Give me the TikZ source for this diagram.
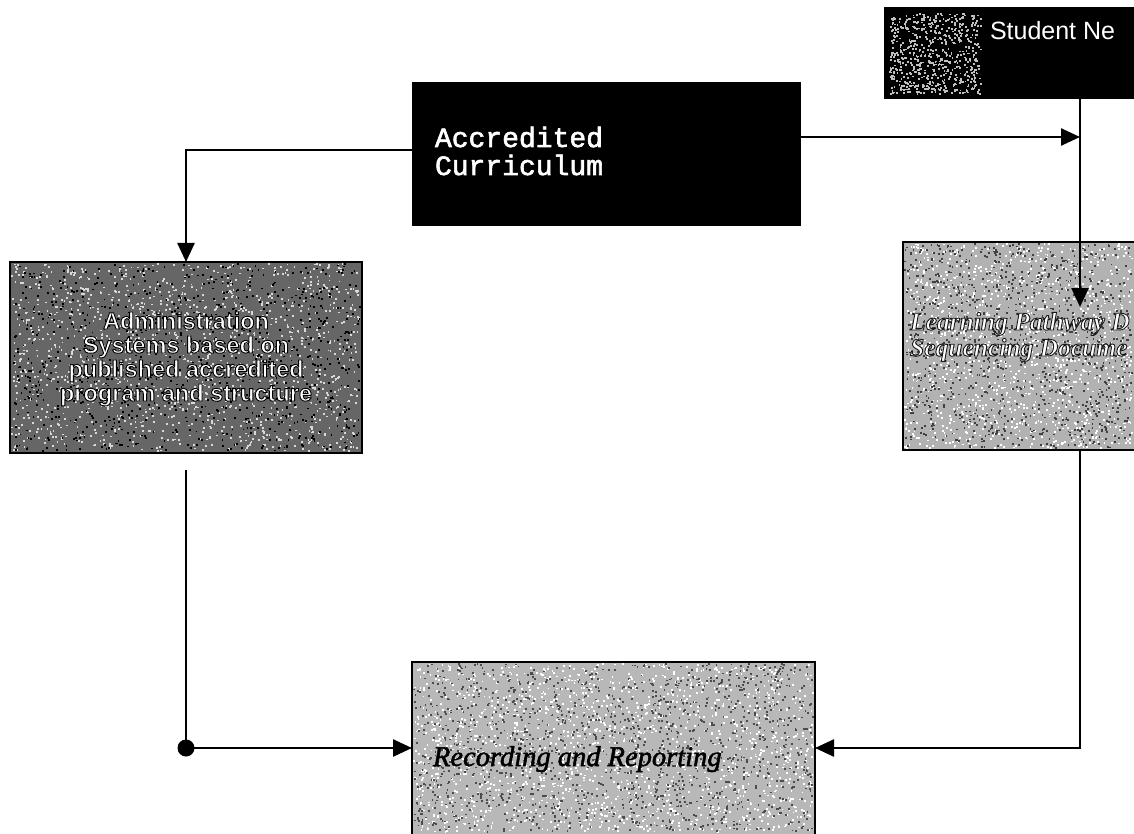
\documentclass[tikz,border=0pt]{standalone}
\usepackage{fontspec}
\usetikzlibrary{arrows.meta}
\newfontfamily\arialfont{Liberation Sans}
\newfontfamily\arialbold{Liberation Sans Bold}
\newfontfamily\courfont{Liberation Mono}
\newfontfamily\timesit{Liberation Serif Italic}
\newfontfamily\timesbi{Liberation Serif Bold Italic}

\definecolor{admingray}{gray}{0.40}
\definecolor{pathgray}{gray}{0.70}
\definecolor{recgray}{gray}{0.72}

% text painted with fill and stroke: stroke width, stroke gray level, text
\newcommand\outlined[3]{\special{pdf:code q #1 w #2 G 2 Tr}#3\special{pdf:code Q}}

% scatter small square specks over a rectangle: x y w h count colour seed
\newcommand\speckle[7]{%
  \pgfmathsetseed{#7}%
  \foreach \k in {1,...,#5}{%
    \pgfmathsetmacro\sx{#1+1+rnd*(#3-4)}%
    \pgfmathsetmacro\sy{#2+1+rnd*(#4-4)}%
    \fill[#6] (\sx,\sy) rectangle ++(1.8,1.8);
  }}

\tikzset{
  box/.style={draw=black, line width=2pt, inner sep=0pt, outer sep=0pt, anchor=north west},
  conn/.style={draw=black, line width=2.5pt},
  arr/.style={conn, -{Triangle[length=19pt,width=17pt]}},
  label/.style={inner sep=0pt, outer sep=0pt}
}

\begin{document}
\begin{tikzpicture}[x=1pt, y=-1pt]
\useasboundingbox (0,0) rectangle (1134,834);
\clip (0,0) rectangle (1134,834);

% boxes
\node[box, fill=black, minimum width=387pt, minimum height=142pt] (accr) at (413,83) {};
\node[box, fill=black, minimum width=280pt, minimum height=90pt] (stud) at (885,8) {};
\node[box, fill=admingray, minimum width=352pt, minimum height=191pt] (admin) at (10,262) {};
\node[box, fill=pathgray, minimum width=260pt, minimum height=208pt] (path) at (903,242) {};
\node[box, fill=recgray, minimum width=403pt, minimum height=190pt] (rec) at (412,662) {};

% grain on the shaded boxes
\speckle{10}{262}{352}{191}{1500}{white!85!black}{11}
\speckle{10}{262}{352}{191}{900}{black}{12}
\speckle{903}{242}{231}{208}{1300}{white}{21}
\speckle{903}{242}{231}{208}{1100}{black!75}{22}
\speckle{412}{662}{403}{172}{1700}{white}{31}
\speckle{412}{662}{403}{172}{1500}{black!70}{32}
\speckle{888}{12}{95}{84}{650}{white!75!black}{41}

% texts
\node[label, anchor=base west, text=white, font=\courfont\fontsize{28}{28}\selectfont, align=left] (accrtxt) at (435,175)
  {\outlined{0.6}{1}{Accredited}\\\outlined{0.6}{1}{Curriculum}};
\node[label, anchor=base west, text=white, font=\arialfont\fontsize{25}{25}\selectfont] (studtxt) at (990,40) {Student Ne};
\node[label, anchor=base, text=white, font=\arialbold\fontsize{23.5}{24}\selectfont, align=center] (admintxt) at (186,401)
  {\outlined{0.9}{0}{Administration}\\\outlined{0.9}{0}{Systems based on}\\\outlined{0.9}{0}{published accredited}\\\outlined{0.9}{0}{program and structure}};
\node[label, anchor=base west, text=white, font=\timesbi\fontsize{25.5}{26}\selectfont, align=left] (pathtxt) at (910,356)
  {\outlined{0.9}{0.1}{Learning Pathway D}\\\outlined{0.9}{0.1}{Sequencing Docume}};
\node[label, anchor=base west, text=black, font=\timesit\fontsize{28.5}{28}\selectfont] (rectxt) at (433,766)
  {\outlined{0.5}{0}{Recording and Reporting}};

% connectors
\coordinate (aL) at (413,150);
\coordinate (aR) at (800,137);
\coordinate (jR) at (1080,137);
\coordinate (pathTip) at (1080,307);
\coordinate (admBot) at (186,470);
\coordinate (dot) at (186,748);

\draw[arr] (aL) -| (admin.north);
\draw[arr] (aR) -- (jR);
\draw[arr] (stud.south -| jR) -- (pathTip);
\draw[arr] (path.south -| jR) |- (rec.east |- dot);
\draw[conn] (admBot) -- (dot);
\draw[arr] (dot) -- (rec.west |- dot);
\fill[black] (dot) circle (8.5pt);
\end{tikzpicture}
\end{document}
